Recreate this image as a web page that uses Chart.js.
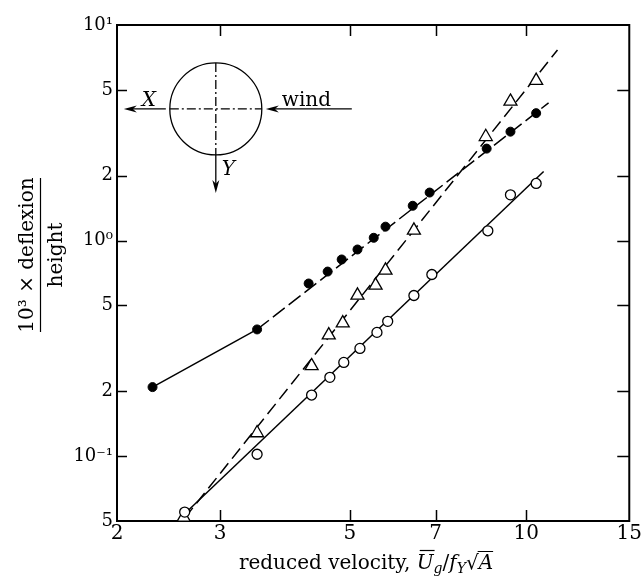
<!DOCTYPE html>
<html><head><meta charset="utf-8">
<script src="https://cdn.jsdelivr.net/npm/chart.js@4.4.0/dist/chart.umd.min.js"></script>
<style>html,body{margin:0;padding:0;background:#fff;} canvas{display:block;}</style>
</head><body>
<canvas id="c" width="643" height="577"></canvas>
<script>
// ---- tick values / labels ----
const xTicks = [2, 3, 5, 7, 10, 15];
const xTickLabels = ['2', '3', '5', '7', '10', '15'];
const yTicks = [0.05, 0.1, 0.2, 0.5, 1, 2, 5, 10];
const yTickLabels = ['5', '10⁻¹', '2', '5', '10⁰', '2', '5', '10¹'];

// ---- filled circles ----
const xFilled = [2.30, 3.47, 4.25, 4.58, 4.84, 5.15, 5.49, 5.75, 6.40, 6.84, 8.56, 9.40, 10.4];
const yFilled = [0.209, 0.387, 0.632, 0.718, 0.817, 0.909, 1.03, 1.16, 1.45, 1.67, 2.67, 3.20, 3.90];
// ---- open triangles ----
const xTri = [2.60, 3.47, 4.30, 4.60, 4.86, 5.15, 5.53, 5.75, 6.43, 8.53, 9.40, 10.4];
const yTri = [0.052, 0.128, 0.262, 0.364, 0.414, 0.557, 0.620, 0.727, 1.115, 3.03, 4.42, 5.52];
// ---- open circles ----
const xOpen = [2.61, 3.47, 4.30, 4.62, 4.88, 5.20, 5.56, 5.80, 6.43, 6.90, 8.60, 9.40, 10.4];
const yOpen = [0.055, 0.102, 0.192, 0.232, 0.272, 0.316, 0.375, 0.422, 0.556, 0.696, 1.11, 1.63, 1.84];

// ---- fitted lines (end points) ----
const openFitX = [2.61, 10.71];
const openFitY = [0.054, 2.09];
const triFitX = [2.61, 11.31];
const triFitY = [0.0516, 7.66];
const filledSolidX = [2.30, 3.47];
const filledSolidY = [0.209, 0.387];
const filledDashX = [3.47, 10.92];
const filledDashY = [0.387, 4.35];

// inset diagram centre (data coordinates)
const insetX = 2.95, insetY = 4.08;

const FONT = "'DejaVu Serif', serif";

function pts(xs, ys) { return xs.map((x, i) => ({ x: x, y: ys[i] })); }

function arrow(ctx, x1, y1, x2, y2) {
  const ang = Math.atan2(y2 - y1, x2 - x1);
  const L = 13, W = 3.5;
  ctx.beginPath(); ctx.moveTo(x1, y1);
  ctx.lineTo(x2 - Math.cos(ang) * L * 0.6, y2 - Math.sin(ang) * L * 0.6); ctx.stroke();
  ctx.beginPath();
  ctx.moveTo(x2, y2);
  ctx.lineTo(x2 - Math.cos(ang) * L - Math.sin(ang) * W, y2 - Math.sin(ang) * L + Math.cos(ang) * W);
  ctx.lineTo(x2 - Math.cos(ang) * L * 0.7, y2 - Math.sin(ang) * L * 0.7);
  ctx.lineTo(x2 - Math.cos(ang) * L + Math.sin(ang) * W, y2 - Math.sin(ang) * L - Math.cos(ang) * W);
  ctx.closePath(); ctx.fill();
}

const framePlugin = {
  id: 'frame',
  beforeDatasetsDraw(chart) {
    const { ctx, chartArea: a, scales: { x, y } } = chart;
    ctx.save();
    ctx.strokeStyle = '#000';
    ctx.lineWidth = 2;
    ctx.strokeRect(a.left, a.top, a.right - a.left, a.bottom - a.top);
    ctx.lineWidth = 1.5;
    xTicks.forEach(v => {
      if (v <= x.min || v >= x.max) return;
      const px = Math.round(x.getPixelForValue(v)) + 0.5;
      ctx.beginPath();
      ctx.moveTo(px, a.bottom); ctx.lineTo(px, a.bottom - 11);
      ctx.moveTo(px, a.top); ctx.lineTo(px, a.top + 11);
      ctx.stroke();
    });
    yTicks.forEach(v => {
      if (v <= y.min || v >= y.max) return;
      const py = Math.round(y.getPixelForValue(v)) + 0.5;
      ctx.beginPath();
      ctx.moveTo(a.left, py); ctx.lineTo(a.left + 10, py);
      ctx.moveTo(a.right, py); ctx.lineTo(a.right - 12, py);
      ctx.stroke();
    });
    ctx.restore();
  },
  afterDraw(chart) {
    const { ctx, chartArea: a, scales: { x, y } } = chart;
    ctx.save();
    ctx.fillStyle = '#000'; ctx.strokeStyle = '#000';

    // ---- inset diagram ----
    const cx = x.getPixelForValue(insetX), cy = y.getPixelForValue(insetY), R = 46;
    ctx.lineWidth = 1.3;
    ctx.beginPath(); ctx.arc(cx, cy, R, 0, Math.PI * 2); ctx.stroke();
    ctx.setLineDash([9, 3, 2, 3]);
    ctx.beginPath();
    ctx.moveTo(cx - R, cy); ctx.lineTo(cx + R, cy);
    ctx.moveTo(cx, cy - R); ctx.lineTo(cx, cy + R);
    ctx.stroke();
    ctx.setLineDash([]);
    arrow(ctx, cx - R - 4, cy, cx - R - 46, cy);
    arrow(ctx, cx + 136, cy, cx + R + 4, cy);
    arrow(ctx, cx, cy + R, cx, cy + R + 38);
    ctx.textBaseline = 'alphabetic'; ctx.textAlign = 'left';
    ctx.font = "italic 20px " + FONT;
    ctx.fillText('X', cx - 74, cy - 3);
    ctx.fillText('Y', cx + 6, cy + 66);
    ctx.font = "20px " + FONT;
    ctx.fillText('wind', cx + 66, cy - 3);

    // ---- y axis title (fraction) ----
    ctx.save();
    const ty = 255;
    ctx.lineWidth = 1.2;
    ctx.beginPath(); ctx.moveTo(40.5, ty - 77); ctx.lineTo(40.5, ty + 77); ctx.stroke();
    ctx.translate(33, ty);
    ctx.rotate(-Math.PI / 2);
    ctx.textAlign = 'center';
    ctx.font = "20px " + FONT;
    ctx.fillText('10³ × deflexion', 0, 0);
    ctx.fillText('height', 0, 29);
    ctx.restore();

    // ---- x axis title (rich text) ----
    const base = 569;
    const parts = [
      { t: 'reduced velocity, ', f: "20px " + FONT, dy: 0 },
      { t: 'U', f: "italic 20px " + FONT, dy: 0, over: true },
      { t: 'g', f: "italic 14px " + FONT, dy: 4 },
      { t: '/', f: "20px " + FONT, dy: 0 },
      { t: 'f', f: "italic 20px " + FONT, dy: 0 },
      { t: 'Y', f: "italic 14px " + FONT, dy: 4 },
      { t: '√', f: "20px " + FONT, dy: 0 },
      { t: 'A', f: "italic 20px " + FONT, dy: 0, vin: true }
    ];
    let total = 0;
    parts.forEach(p => { ctx.font = p.f; p.w = ctx.measureText(p.t).width; total += p.w; });
    let px = 366 - total / 2;
    ctx.textAlign = 'left';
    parts.forEach(p => {
      ctx.font = p.f;
      ctx.fillText(p.t, px, base + p.dy);
      if (p.over) {
        ctx.lineWidth = 1.2;
        ctx.beginPath(); ctx.moveTo(px + 3, base - 18.5); ctx.lineTo(px + p.w + 1, base - 18.5); ctx.stroke();
      }
      if (p.vin) {
        ctx.lineWidth = 1;
        ctx.beginPath(); ctx.moveTo(px - 1, base - 17.5); ctx.lineTo(px + p.w, base - 17.5); ctx.stroke();
      }
      px += p.w;
    });
    ctx.restore();
  }
};

const pointBase = { showLine: false, clip: false, order: 0, borderColor: '#000' };
const lineBase = { showLine: true, pointRadius: 0, borderColor: '#000', borderWidth: 1.5, order: 1, fill: false };

new Chart(document.getElementById('c'), {
  type: 'scatter',
  data: {
    datasets: [
      Object.assign({}, pointBase, { label: 'open circles', data: pts(xOpen, yOpen), pointStyle: 'circle', pointRadius: 5, pointBackgroundColor: '#fff', pointBorderColor: '#000', pointBorderWidth: 1.3 }),
      Object.assign({}, pointBase, { label: 'triangles', data: pts(xTri, yTri), pointStyle: 'triangle', pointRadius: 7.5, pointBackgroundColor: '#fff', pointBorderColor: '#000', pointBorderWidth: 1.3 }),
      Object.assign({}, pointBase, { label: 'filled circles', data: pts(xFilled, yFilled), pointStyle: 'circle', pointRadius: 4.5, pointBackgroundColor: '#000', pointBorderColor: '#000', pointBorderWidth: 1 }),
      Object.assign({}, lineBase, { label: 'open fit', data: pts(openFitX, openFitY) }),
      Object.assign({}, lineBase, { label: 'triangle fit', data: pts(triFitX, triFitY), borderDash: [13, 6] }),
      Object.assign({}, lineBase, { label: 'filled fit solid', data: pts(filledSolidX, filledSolidY) }),
      Object.assign({}, lineBase, { label: 'filled fit dashed', data: pts(filledDashX, filledDashY), borderDash: [15, 5] })
    ]
  },
  options: {
    responsive: false, animation: false, devicePixelRatio: 1,
    layout: { padding: { top: 25, right: 13, left: 0, bottom: 0 } },
    plugins: { legend: { display: false }, tooltip: { enabled: false } },
    scales: {
      x: {
        type: 'logarithmic', min: 2, max: 15,
        afterBuildTicks(s) { s.ticks = xTicks.map(v => ({ value: v })); },
        afterFit(s) { s.height = 56; },
        grid: { display: false, drawTicks: false },
        border: { display: false },
        ticks: {
          autoSkip: false, maxRotation: 0, padding: 1, color: '#000',
          font: { family: FONT, size: 20 },
          callback: (v) => { const i = xTicks.indexOf(v); return i >= 0 ? xTickLabels[i] : ''; }
        }
      },
      y: {
        type: 'logarithmic', min: 0.05, max: 10,
        afterBuildTicks(s) { s.ticks = yTicks.map(v => ({ value: v })); },
        afterFit(s) { s.width = 117; },
        grid: { display: false, drawTicks: false },
        border: { display: false },
        ticks: {
          autoSkip: false, padding: 4, color: '#000',
          font: { family: FONT, size: 18 },
          callback: (v) => { const i = yTicks.indexOf(v); return i >= 0 ? yTickLabels[i] : ''; }
        }
      }
    }
  },
  plugins: [framePlugin]
});
</script>
</body></html>
